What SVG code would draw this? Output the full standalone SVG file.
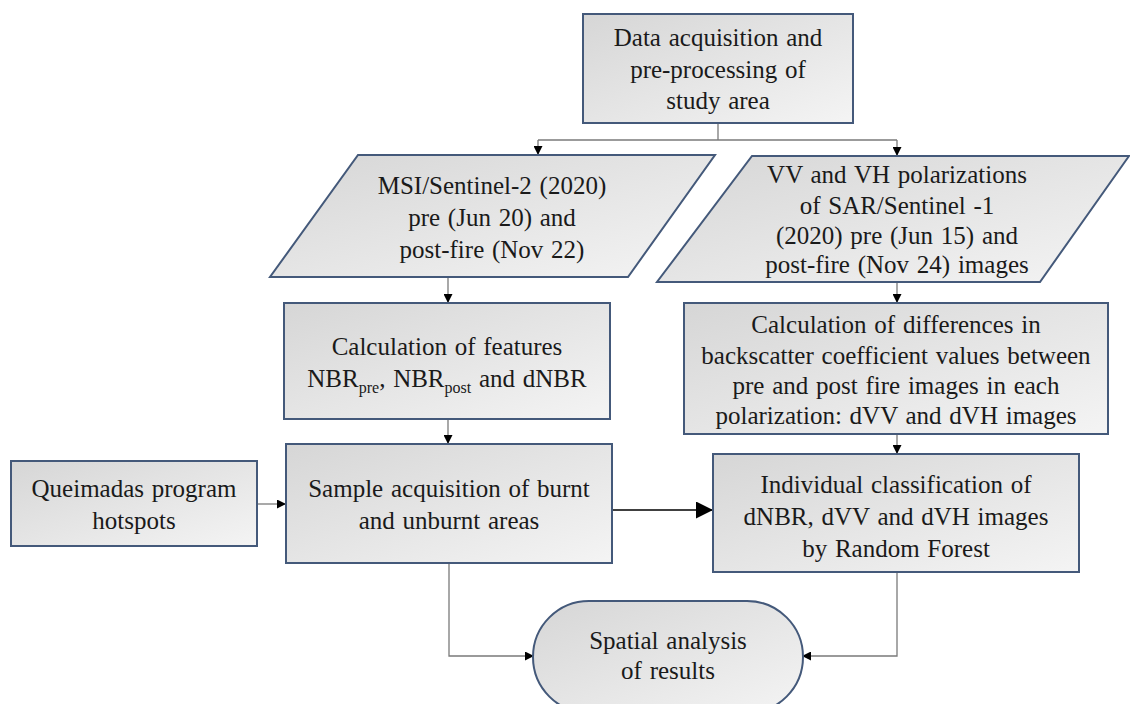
<svg xmlns="http://www.w3.org/2000/svg" width="1130" height="704" viewBox="0 0 1130 704">
<defs>
<linearGradient id="g" x1="0" y1="0" x2="1" y2="1">
<stop offset="0" stop-color="#d6d6d6"/>
<stop offset="1" stop-color="#f4f4f4"/>
</linearGradient>
<marker id="a" viewBox="0 0 10 10" refX="10" refY="5" markerWidth="9" markerHeight="9" markerUnits="userSpaceOnUse" orient="auto">
<path d="M0,0 L10,5 L0,10 z" fill="#000"/>
</marker>
<marker id="b" viewBox="0 0 10 10" refX="10" refY="5" markerWidth="17" markerHeight="17" markerUnits="userSpaceOnUse" orient="auto">
<path d="M0,0 L10,5 L0,10 z" fill="#000"/>
</marker>
</defs>
<style>
.n{fill:url(#g);stroke:#44597a;stroke-width:2}
text{font-family:"Liberation Serif","Times New Roman",serif;font-size:25px;fill:#1a1a1a;text-anchor:middle;word-spacing:1.5px}
.c{fill:none;stroke:#7a7a7a;stroke-width:1.3}
.s{font-size:16px}
</style>
<rect width="1130" height="704" fill="#fff"/>
<g id="connectors">
<path class="c" d="M718,123 V140"/>
<path class="c" d="M538,140 H897"/>
<path class="c" d="M538,140 V155" marker-end="url(#a)"/>
<path class="c" d="M897,140 V156" marker-end="url(#a)"/>
<path class="c" d="M448,277 V303" marker-end="url(#a)"/>
<path class="c" d="M897,282 V303" marker-end="url(#a)"/>
<path class="c" d="M448,419 V444" marker-end="url(#a)"/>
<path class="c" d="M897,434 V454" marker-end="url(#a)"/>
<path class="c" d="M257,504 H286" marker-end="url(#a)"/>
<path d="M612,510 H713" fill="none" stroke="#000" stroke-width="1.6" marker-end="url(#b)"/>
<path class="c" d="M449,563 V656 H534" marker-end="url(#a)"/>
<path class="c" d="M897,572 V656 H802" marker-end="url(#a)"/>
</g>
<g id="n1">
<rect class="n" x="583" y="14" width="270" height="109"/>
<text x="718" y="46">Data acquisition and</text>
<text x="718" y="78">pre-processing of</text>
<text x="718" y="109">study area</text>
</g>
<g id="n2">
<polygon class="n" points="358,155 715,155 628,277 270,277"/>
<text x="492" y="194">MSI/Sentinel-2 (2020)</text>
<text x="492" y="226">pre (Jun 20) and</text>
<text x="492" y="258">post-fire (Nov 22)</text>
</g>
<g id="n3">
<polygon class="n" points="752,156 1129,156 1040,282 657,282"/>
<text x="897" y="183">VV and VH polarizations</text>
<text x="897" y="214">of SAR/Sentinel -1</text>
<text x="897" y="244">(2020) pre (Jun 15) and</text>
<text x="897" y="273">post-fire (Nov 24) images</text>
</g>
<g id="n4">
<rect class="n" x="284" y="303" width="326" height="116"/>
<text x="447" y="355">Calculation of features</text>
<text x="447" y="387">NBR<tspan class="s" dy="6">pre</tspan><tspan dy="-6">, NBR</tspan><tspan class="s" dy="6">post</tspan><tspan dy="-6"> and dNBR</tspan></text>
</g>
<g id="n5">
<rect class="n" x="684" y="303" width="424" height="131"/>
<text x="896" y="333">Calculation of differences in</text>
<text x="896" y="364">backscatter coefficient values between</text>
<text x="896" y="394">pre and post fire images in each</text>
<text x="896" y="424">polarization: dVV and dVH images</text>
</g>
<g id="n6">
<rect class="n" x="11" y="461" width="246" height="85"/>
<text x="134" y="497">Queimadas program</text>
<text x="134" y="529">hotspots</text>
</g>
<g id="n7">
<rect class="n" x="286" y="444" width="326" height="119"/>
<text x="449" y="497">Sample acquisition of burnt</text>
<text x="449" y="529">and unburnt areas</text>
</g>
<g id="n8">
<rect class="n" x="713" y="454" width="366" height="118"/>
<text x="896" y="493">Individual classification of</text>
<text x="896" y="525">dNBR, dVV and dVH images</text>
<text x="896" y="557">by Random Forest</text>
</g>
<g id="n9">
<rect class="n" x="533" y="601" width="270" height="112" rx="56" ry="56"/>
<text x="668" y="649">Spatial analysis</text>
<text x="668" y="679">of results</text>
</g>
</svg>
